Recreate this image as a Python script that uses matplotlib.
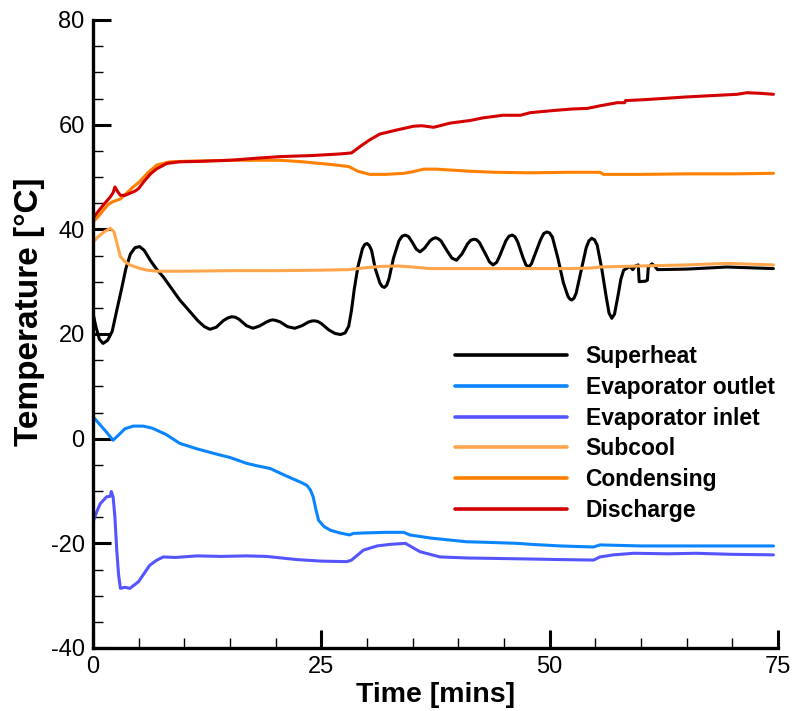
import matplotlib
matplotlib.use("Agg")
import matplotlib.pyplot as plt
from matplotlib.ticker import MultipleLocator

plt.rcParams['font.family'] = ['Liberation Sans', 'DejaVu Sans']
plt.rcParams['axes.unicode_minus'] = False

# --- series (time in minutes, temperature in degC) ---
superheat_t = [0, 0.3, 0.7, 1.1, 1.6, 2.1, 2.6, 3.1, 3.6, 4.1, 4.6, 5.1, 5.6, 6.3, 7.0, 7.7,
               8.6, 9.5, 10.5, 11.5, 12.2, 12.8, 13.5, 14.3, 14.8, 15.2, 15.6, 16.0, 16.8,
               17.5, 18.2, 19.0, 19.4, 19.7, 20.0, 20.5, 21.3, 22.1, 22.9, 23.6, 24.0, 24.3,
               24.6, 25.0, 25.8, 26.5, 27.1, 27.6, 28.0, 28.3, 28.6, 29.0, 29.5, 29.75, 30.0,
               30.25, 30.5, 30.9, 31.4, 31.65, 31.9, 32.15, 32.4, 32.9, 33.5, 33.85, 34.2,
               34.55, 34.9, 35.4, 35.8, 36.3, 36.9, 37.2, 37.5, 37.8, 38.1, 38.8, 39.3, 39.8,
               40.4, 41.0, 41.35, 41.7, 42.0, 42.3, 43.0, 43.4, 43.8, 44.2, 44.5, 45.2, 45.55,
               45.9, 46.2, 46.5, 47.1, 47.4, 47.7, 48.0, 48.3, 49.0, 49.35, 49.7, 50.0, 50.3,
               50.9, 51.5, 52.0, 52.2, 52.4, 52.65, 52.9, 53.5, 54.0, 54.3, 54.6, 54.9, 55.2,
               55.7, 56.2, 56.5, 56.8, 57.1, 57.5, 57.8, 58.1, 58.5, 58.8, 59.1, 59.4, 59.7,
               59.8, 60.5, 60.7, 60.8, 61.2, 61.5, 61.8, 65.0, 69.4, 74.5]
superheat_v = [24.0, 21.5, 19.0, 18.2, 18.8, 20.5, 24.5, 28.4, 32.5, 35.3, 36.5, 36.7, 36.0,
               34.0, 32.3, 30.9, 28.7, 26.5, 24.5, 22.5, 21.4, 20.9, 21.3, 22.6, 23.1, 23.3,
               23.2, 22.8, 21.6, 21.1, 21.5, 22.3, 22.6, 22.7, 22.6, 22.3, 21.4, 21.1, 21.6,
               22.3, 22.5, 22.5, 22.4, 22.0, 20.8, 20.1, 19.9, 20.2, 21.5, 24.5, 28.5, 32.8,
               36.3, 37.1, 37.3, 36.9, 36.0, 32.5, 29.8, 29.1, 28.9, 29.3, 30.5, 34.5, 37.8,
               38.7, 38.9, 38.6, 37.7, 36.2, 35.7, 36.4, 37.8, 38.2, 38.4, 38.2, 37.8, 35.8,
               34.5, 34.1, 35.3, 37.2, 37.9, 38.1, 38.0, 37.5, 35.2, 33.8, 33.2, 33.7, 34.8,
               37.8, 38.7, 38.9, 38.6, 37.6, 34.5, 33.2, 32.8, 33.4, 34.8, 38.0, 39.2, 39.5,
               39.3, 38.5, 34.5, 29.8, 27.2, 26.7, 26.5, 26.8, 27.8, 32.5, 36.5, 37.8, 38.3,
               38.0, 37.0, 32.5, 27.0, 24.0, 23.0, 23.8, 27.5, 30.5, 32.2, 32.6, 32.9, 32.3,
               33.0, 33.2, 30.0, 30.1, 30.3, 32.8, 33.4, 33.0, 32.3, 32.4, 32.8, 32.5]

evap_out_t = [0, 0.7, 1.5, 2.2, 2.8, 3.5, 4.4, 5.5, 6.5, 8.0, 9.5, 11.3, 13.2, 15.0, 16.8,
              18.0, 19.4, 21.0, 22.7, 23.4, 23.8, 24.1, 24.4, 24.7, 25.3, 26.0, 27.0, 28.1,
              28.5, 30.0, 32.0, 34.0, 34.7, 37.0, 40.9, 43.0, 46.4, 48.0, 51.2, 54.8, 55.5,
              60.0, 66.7, 74.5]
evap_out_v = [4.2, 2.8, 1.2, -0.3, 0.7, 1.9, 2.4, 2.4, 2.0, 0.8, -0.9, -1.9, -2.8, -3.6,
              -4.7, -5.2, -5.7, -7.0, -8.3, -8.9, -9.8, -11.1, -13.5, -15.6, -16.8, -17.5,
              -18.0, -18.4, -18.1, -18.0, -17.9, -17.9, -18.4, -19.0, -19.7, -19.8, -20.0,
              -20.2, -20.5, -20.7, -20.3, -20.5, -20.5, -20.5]

evap_in_t = [0, 0.4, 0.8, 1.5, 1.9, 2.0, 2.2, 2.4, 2.6, 2.8, 3.0, 3.5, 4.05, 5.0, 6.2, 7.0,
             7.7, 9.0, 11.4, 14.0, 16.8, 19.0, 22.3, 25.0, 27.8, 28.3, 29.0, 29.6, 31.1,
             32.5, 34.2, 35.0, 35.8, 38.0, 41.0, 44.6, 48.0, 51.0, 54.8, 55.5, 57.0, 59.2,
             63.0, 66.0, 70.0, 74.5]
evap_in_v = [-15.9, -14.0, -12.4, -11.1, -11.0, -10.1, -11.1, -15.0, -21.3, -26.0, -28.6,
             -28.4, -28.6, -27.3, -24.2, -23.2, -22.6, -22.7, -22.4, -22.5, -22.4, -22.5,
             -23.1, -23.4, -23.5, -23.2, -22.2, -21.3, -20.5, -20.2, -20.0, -20.8, -21.6,
             -22.6, -22.8, -22.9, -23.0, -23.1, -23.2, -22.6, -22.2, -21.9, -22.0, -21.9,
             -22.1, -22.2]

subcool_t = [0, 0.5, 1.2, 1.9, 2.3, 2.6, 3.0, 3.5, 4.05, 5.0, 5.9, 7.0, 10.0, 15.0, 20.0,
             25.0, 28.0, 29.5, 31.4, 33.3, 35.0, 36.9, 42.0, 47.7, 52.0, 54.5, 55.5, 60.0,
             65.0, 69.4, 74.5]
subcool_v = [37.5, 38.5, 39.5, 40.2, 39.5, 37.5, 34.8, 33.8, 33.2, 32.6, 32.2, 32.0, 32.0,
             32.1, 32.1, 32.2, 32.3, 32.6, 32.9, 33.0, 32.8, 32.5, 32.5, 32.5, 32.5, 32.6,
             32.8, 33.0, 33.2, 33.5, 33.2]

cond_t = [0, 0.6, 1.2, 1.7, 2.2, 3.0, 3.5, 4.2, 5.1, 6.0, 7.0, 8.4, 10.0, 15.0, 20.5, 23.0,
          26.0, 28.0, 29.0, 30.3, 32.0, 34.0, 35.0, 36.2, 37.6, 41.3, 44.0, 47.9, 52.0, 55.5,
          55.9, 60.0, 65.0, 70.0, 74.5]
cond_v = [41.4, 42.5, 43.8, 44.8, 45.3, 45.8, 46.6, 47.8, 49.1, 50.8, 52.3, 52.9, 53.0, 53.2,
          53.2, 52.9, 52.4, 52.0, 51.1, 50.5, 50.5, 50.7, 51.0, 51.5, 51.5, 51.1, 50.9, 50.8,
          50.9, 50.9, 50.5, 50.5, 50.6, 50.6, 50.7]

disch_t = [0, 0.6, 1.3, 1.9, 2.2, 2.4, 2.7, 3.0, 3.5, 4.05, 4.6, 5.0, 5.6, 6.3, 7.0, 8.1,
           9.5, 12.0, 15.0, 18.0, 20.5, 24.0, 27.0, 28.3, 29.3, 30.3, 31.4, 33.3, 35.1, 36.0,
           37.3, 39.1, 41.3, 42.7, 44.9, 46.8, 47.9, 50.4, 52.5, 54.1, 55.5, 57.4, 58.2, 58.3,
           60.6, 65.0, 70.5, 71.6, 73.0, 74.5]
disch_v = [42.1, 43.5, 45.0, 46.2, 47.0, 48.1, 47.2, 46.5, 46.5, 46.9, 47.3, 47.8, 49.2,
           50.6, 51.6, 52.6, 52.9, 53.0, 53.2, 53.6, 53.9, 54.1, 54.4, 54.6, 55.9, 57.1,
           58.2, 59.0, 59.7, 59.8, 59.5, 60.3, 60.8, 61.3, 61.8, 61.8, 62.3, 62.7, 63.0,
           63.1, 63.6, 64.2, 64.2, 64.6, 64.8, 65.3, 65.8, 66.1, 66.0, 65.8]

labels = ["Superheat", "Evaporator outlet", "Evaporator inlet", "Subcool", "Condensing", "Discharge"]
colors = ["#000000", "#0A84FF", "#5555FF", "#FFA64D", "#FF8000", "#D40000"]

x_ticks = [0, 25, 50, 75]
y_ticks = [-40, -20, 0, 20, 40, 60, 80]

fig = plt.figure(figsize=(7.95, 7.11), dpi=100)
ax = fig.add_axes([93 / 795, 1 - 648 / 711, (778 - 93) / 795, (648 - 20) / 711])

series = [(superheat_t, superheat_v), (evap_out_t, evap_out_v), (evap_in_t, evap_in_v),
          (subcool_t, subcool_v), (cond_t, cond_v), (disch_t, disch_v)]
for (t, v), lab, c in zip(series, labels, colors):
    ax.plot(t, v, color=c, lw=2.2, label=lab, solid_joinstyle='round', solid_capstyle='round')

ax.set_xlim(0, 75)
ax.set_ylim(-40, 80)
ax.set_xticks(x_ticks)
ax.set_yticks(y_ticks)
ax.xaxis.set_minor_locator(MultipleLocator(5))
ax.yaxis.set_minor_locator(MultipleLocator(5))

for side in ("top", "right"):
    ax.spines[side].set_visible(False)
for side in ("left", "bottom"):
    ax.spines[side].set_linewidth(2.4)

ax.tick_params(which='major', direction='in', length=13, width=2.2, labelsize=17, pad=6)
ax.tick_params(which='minor', direction='in', length=7, width=1.0)

ax.set_xlabel("Time [mins]", fontsize=20.5, fontweight='bold', labelpad=3)
ax.set_ylabel("Temperature [°C]", fontsize=24, fontweight='bold')
ax.yaxis.set_label_coords(-0.07, 0.535)

leg = ax.legend(loc='upper left', bbox_to_anchor=(455 / 795, 1 - 345 / 711),
                bbox_transform=fig.transFigure, frameon=False,
                prop={'weight': 'bold', 'size': 16.5}, handlelength=4.9,
                handletextpad=0.8, labelspacing=0.34, borderpad=0, borderaxespad=0)
for line in leg.get_lines():
    line.set_linewidth(2.6)

fig.savefig("out.png", dpi=100)
